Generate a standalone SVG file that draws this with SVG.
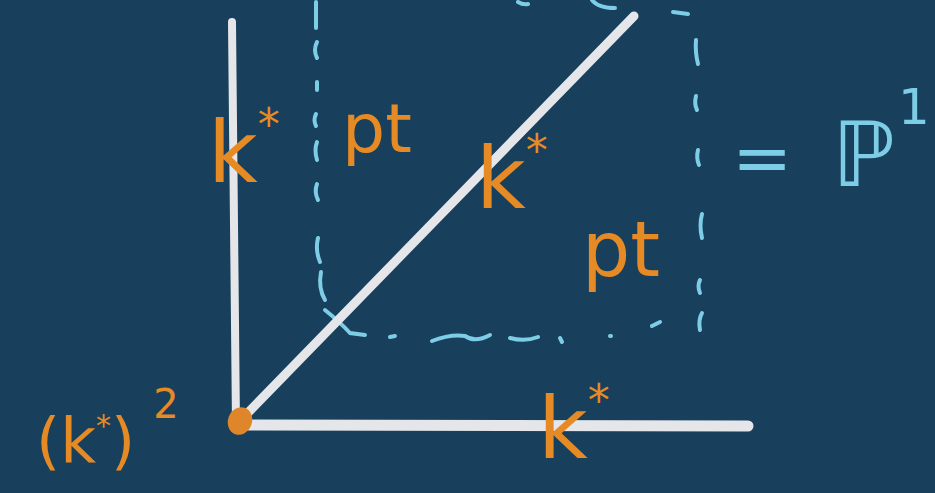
<svg xmlns="http://www.w3.org/2000/svg" width="935" height="493" viewBox="0 0 935 493">
<style>
.bg{fill:#183f5b}
.axis{stroke:#e4e6ea;stroke-linecap:round;fill:none}
.dash path{stroke:#7ecde6;stroke-width:4;fill:none;stroke-linecap:round}
.or{fill:#e58a25;font-family:"DejaVu Sans",sans-serif}
.cy{fill:#7ecde6;font-family:"DejaVu Sans",sans-serif}
</style>
<rect class="bg" x="0" y="0" width="935" height="493"/>
<g id="box" class="dash">
<path d="M316 2 V28"/>
<path d="M317 42 Q313 50 317 58"/>
<path d="M317 82 V90"/>
<path d="M316 114 Q313 120 316 126"/>
<path d="M317 142 Q314 150 317 160"/>
<path d="M317 184 Q314 192 318 200"/>
<path d="M318 238 Q315 250 320 262"/>
<path d="M321 272 Q318 288 325 300"/>
<path d="M325 310 Q340 322 350 333 L365 335"/>
<path d="M390 337 L395 336"/>
<path d="M432 341 Q450 334 465 336 Q475 343 490 335"/>
<path d="M510 338 Q525 342 538 337"/>
<path d="M560 338 L562 342"/>
<path d="M610 336 L611 336"/>
<path d="M652 326 L660 322"/>
<path d="M702 313 Q698 320 700 330"/>
<path d="M700 280 Q697 286 700 293"/>
<path d="M702 214 Q699 225 702 238"/>
<path d="M698 150 Q696 158 699 165"/>
<path d="M696 96 Q694 104 697 110"/>
<path d="M696 40 Q695 52 698 64"/>
<path d="M673 12 L688 14"/>
<path d="M592 0 Q598 8 615 8"/>
<path d="M518 2 Q523 5 528 4"/>
</g>
<g id="axes">
<line class="axis" x1="232" y1="22" x2="236" y2="425" stroke-width="8"/>
<line class="axis" x1="236" y1="425" x2="748" y2="426" stroke-width="11"/>
<line class="axis" x1="238" y1="423" x2="634" y2="16" stroke-width="9"/>
</g>
<g id="origin">
<ellipse cx="240" cy="421" rx="12" ry="14" fill="#e0862a" transform="rotate(20 240 421)"/>
</g>
<g id="label-vertical">
<text class="or" x="208" y="182" font-size="86">k<tspan font-size="44" dy="-42">*</tspan></text>
</g>
<g id="label-diagonal">
<text class="or" x="476" y="208" font-size="86">k<tspan font-size="44" dy="-42">*</tspan></text>
</g>
<g id="label-horizontal">
<text class="or" x="538" y="458" font-size="86">k<tspan font-size="44" dy="-42">*</tspan></text>
</g>
<g id="label-pt1">
<text class="or" x="342" y="152" font-size="68">pt</text>
</g>
<g id="label-pt2">
<text class="or" x="582" y="276" font-size="76">pt</text>
</g>
<g id="label-origin">
<text class="or" x="36" y="462" font-size="62">(k<tspan font-size="30" dy="-26">*</tspan><tspan dy="26">)</tspan><tspan font-size="40" dx="18" dy="-44">2</tspan></text>
</g>
<g id="label-P1">
<text class="cy" x="732" y="182" font-size="72">=</text>
<text class="cy" x="832" y="186" font-size="90">ℙ<tspan font-size="50" x="898" y="124">1</tspan></text>
</g>
</svg>
